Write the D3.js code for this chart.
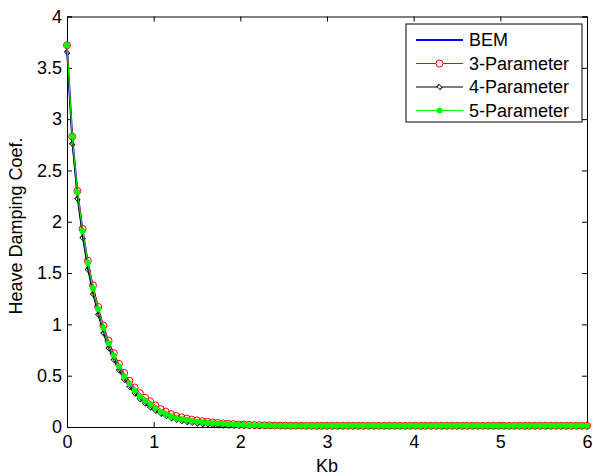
<!DOCTYPE html>
<html>
<head>
<meta charset="utf-8">
<script src="https://cdn.jsdelivr.net/npm/d3@7"></script>
<style>
  body { margin: 0; background: #fff; }
  text { font-family: "Liberation Sans", Arial, sans-serif; }
</style>
</head>
<body>
<div id="chart"></div>
<script>
const width = 593
const height = 476

// Kb runs 0 .. 6 in steps of 0.06 (101 samples)
const kbStep = 0.06

const bem = [
  3.70, 2.83, 2.29, 1.91, 1.60, 1.35, 1.15, 0.965, 0.815, 0.695,
  0.59, 0.495, 0.425, 0.355, 0.30, 0.256, 0.222, 0.185, 0.150, 0.124,
  0.102, 0.086, 0.075, 0.067, 0.059, 0.052, 0.046, 0.041, 0.037, 0.033,
  0.030, 0.027, 0.024, 0.022, 0.020, 0.018, 0.017, 0.016, 0.015, 0.014,
  0.013, 0.013, 0.012, 0.012, 0.012, 0.011, 0.011, 0.011, 0.011, 0.011,
  0.010, 0.010, 0.010, 0.010, 0.010, 0.010, 0.010, 0.010, 0.010, 0.010,
  0.010, 0.010, 0.010, 0.010, 0.010, 0.010, 0.010, 0.010, 0.010, 0.010,
  0.010, 0.010, 0.010, 0.010, 0.010, 0.010, 0.010, 0.010, 0.010, 0.010,
  0.010, 0.010, 0.010, 0.010, 0.010, 0.010, 0.010, 0.010, 0.010, 0.010,
  0.010, 0.010, 0.010, 0.010, 0.010, 0.010, 0.010, 0.010, 0.010, 0.010,
  0.010
]

const param3 = [
  3.72, 2.83, 2.30, 1.93, 1.62, 1.38, 1.17, 0.99, 0.84, 0.72,
  0.615, 0.525, 0.45, 0.385, 0.33, 0.285, 0.25, 0.21, 0.175, 0.15,
  0.125, 0.108, 0.094, 0.082, 0.072, 0.064, 0.056, 0.050, 0.044, 0.039,
  0.035, 0.031, 0.028, 0.025, 0.023, 0.021, 0.019, 0.018, 0.017, 0.016,
  0.015, 0.014, 0.014, 0.013, 0.013, 0.013, 0.012, 0.012, 0.012, 0.012,
  0.012, 0.012, 0.012, 0.012, 0.012, 0.012, 0.012, 0.012, 0.012, 0.012,
  0.012, 0.012, 0.012, 0.012, 0.012, 0.012, 0.012, 0.012, 0.012, 0.012,
  0.012, 0.012, 0.012, 0.012, 0.012, 0.012, 0.012, 0.012, 0.012, 0.012,
  0.012, 0.012, 0.012, 0.012, 0.012, 0.012, 0.012, 0.012, 0.012, 0.012,
  0.012, 0.012, 0.012, 0.012, 0.012, 0.012, 0.012, 0.012, 0.012, 0.012,
  0.012
]

const param4 = [
  3.65, 2.755, 2.22, 1.84, 1.53, 1.29, 1.09, 0.91, 0.765, 0.65,
  0.55, 0.46, 0.39, 0.325, 0.27, 0.228, 0.19, 0.158, 0.130, 0.106,
  0.086, 0.070, 0.058, 0.048, 0.040, 0.034, 0.028, 0.024, 0.020, 0.017,
  0.015, 0.013, 0.012, 0.011, 0.010, 0.010, 0.009, 0.009, 0.009, 0.009,
  0.009, 0.009, 0.009, 0.009, 0.009, 0.009, 0.009, 0.009, 0.009, 0.009,
  0.009, 0.009, 0.009, 0.009, 0.009, 0.009, 0.009, 0.009, 0.009, 0.009,
  0.009, 0.009, 0.009, 0.009, 0.009, 0.009, 0.009, 0.009, 0.009, 0.009,
  0.009, 0.009, 0.009, 0.009, 0.009, 0.009, 0.009, 0.009, 0.009, 0.009,
  0.009, 0.009, 0.009, 0.009, 0.009, 0.009, 0.009, 0.009, 0.009, 0.009,
  0.009, 0.009, 0.009, 0.009, 0.009, 0.009, 0.009, 0.009, 0.009, 0.009,
  0.009
]

const param5 = [
  3.72, 2.83, 2.29, 1.91, 1.60, 1.35, 1.15, 0.965, 0.815, 0.695,
  0.59, 0.495, 0.425, 0.355, 0.30, 0.256, 0.224, 0.185, 0.149, 0.124,
  0.102, 0.085, 0.075, 0.068, 0.058, 0.052, 0.046, 0.041, 0.037, 0.033,
  0.030, 0.027, 0.024, 0.022, 0.020, 0.018, 0.017, 0.016, 0.015, 0.014,
  0.013, 0.013, 0.012, 0.012, 0.012, 0.011, 0.011, 0.011, 0.011, 0.011,
  0.011, 0.011, 0.011, 0.011, 0.011, 0.011, 0.011, 0.011, 0.011, 0.011,
  0.011, 0.011, 0.011, 0.011, 0.011, 0.011, 0.011, 0.011, 0.011, 0.011,
  0.011, 0.011, 0.011, 0.011, 0.011, 0.011, 0.011, 0.011, 0.011, 0.011,
  0.011, 0.011, 0.011, 0.011, 0.011, 0.011, 0.011, 0.011, 0.011, 0.011,
  0.011, 0.011, 0.011, 0.011, 0.011, 0.011, 0.011, 0.011, 0.011, 0.011,
  0.011
]

const seriesNames = ["BEM", "3-Parameter", "4-Parameter", "5-Parameter"]
const xTicks = [0, 1, 2, 3, 4, 5, 6]
const yTicks = [0, 0.5, 1, 1.5, 2, 2.5, 3, 3.5, 4]

const margin = {left: 67, right: 6, top: 16.5, bottom: 49}
const fontPx = "18px"

const svg = d3.select("#chart")
  .append("svg")
    .attr("width", width)
    .attr("height", height)

const x = d3.scaleLinear()
  .domain([0, 6])
  .range([margin.left, width - margin.right])

const y = d3.scaleLinear()
  .domain([0, 4])
  .range([height - margin.bottom, margin.top])

const toPts = arr => arr.map((v, i) => ({kb: i * kbStep, v: v}))

const line = d3.line()
  .x(d => x(d.kb))
  .y(d => y(d.v))

// axes box with inward ticks on all sides
const tickLen = 5
svg.append("g")
  .attr("transform", `translate(0,${y(0)})`)
  .call(d3.axisBottom(x).tickValues(xTicks).tickSize(-tickLen).tickPadding(8).tickFormat(d3.format("d")))
svg.append("g")
  .attr("transform", `translate(0,${y(4)})`)
  .call(d3.axisTop(x).tickValues(xTicks).tickSize(-tickLen).tickFormat(""))
svg.append("g")
  .attr("transform", `translate(${x(0)},0)`)
  .call(d3.axisLeft(y).tickValues(yTicks).tickSize(-tickLen).tickPadding(5).tickFormat(d => d))
svg.append("g")
  .attr("transform", `translate(${x(6)},0)`)
  .call(d3.axisRight(y).tickValues(yTicks).tickSize(-tickLen).tickFormat(""))

svg.selectAll(".domain").attr("stroke", "#000")
svg.selectAll(".tick line").attr("stroke", "#000")
svg.selectAll(".tick text")
  .attr("fill", "#000")
  .style("font-size", fontPx)

// axis titles
svg.append("text")
  .attr("x", (x(0) + x(6)) / 2)
  .attr("y", 472)
  .attr("text-anchor", "middle")
  .style("font-size", fontPx)
  .text("Kb")

svg.append("text")
  .attr("transform", `translate(22,226) rotate(-90)`)
  .attr("text-anchor", "middle")
  .style("font-size", fontPx)
  .text("Heave Damping Coef.")

const plot = svg.append("g")

// BEM
plot.append("path")
  .datum(toPts(bem))
  .attr("fill", "none")
  .attr("stroke", "#0000ff")
  .attr("stroke-width", 2)
  .attr("d", line)

// 3-Parameter
plot.append("path")
  .datum(toPts(param3))
  .attr("fill", "none")
  .attr("stroke", "#ff0000")
  .attr("stroke-width", 1)
  .attr("d", line)
plot.append("g").selectAll("circle")
  .data(toPts(param3))
  .join("circle")
    .attr("cx", d => x(d.kb))
    .attr("cy", d => y(d.v))
    .attr("r", 3.5)
    .attr("fill", "none")
    .attr("stroke", "#ff0000")
    .attr("stroke-width", 1)

// 4-Parameter
const diamondPath = d3.symbol().type(d3.symbolSquare).size(26)
plot.append("path")
  .datum(toPts(param4))
  .attr("fill", "none")
  .attr("stroke", "#000")
  .attr("stroke-width", 1)
  .attr("d", line)
plot.append("g").selectAll("path")
  .data(toPts(param4))
  .join("path")
    .attr("transform", d => `translate(${x(d.kb)},${y(d.v)}) rotate(45) scale(0.85,0.6)`)
    .attr("d", diamondPath)
    .attr("fill", "none")
    .attr("stroke", "#000")
    .attr("stroke-width", 1.2)

// 5-Parameter
plot.append("path")
  .datum(toPts(param5))
  .attr("fill", "none")
  .attr("stroke", "#00ff00")
  .attr("stroke-width", 1)
  .attr("d", line)
plot.append("g").selectAll("circle")
  .data(toPts(param5))
  .join("circle")
    .attr("cx", d => x(d.kb))
    .attr("cy", d => y(d.v))
    .attr("r", 3)
    .attr("fill", "#00ff00")

// legend
const lg = svg.append("g")
lg.append("rect")
  .attr("x", 406).attr("y", 24)
  .attr("width", 176).attr("height", 98)
  .attr("fill", "#fff")
  .attr("stroke", "#000")
  .attr("stroke-width", 1)

const legendColors = ["#0000ff", "#ff0000", "#000", "#00ff00"]
seriesNames.forEach((name, i) => {
  const ly = 40 + i * 23.5
  lg.append("line")
    .attr("x1", 416).attr("x2", 463)
    .attr("y1", ly).attr("y2", ly)
    .attr("stroke", legendColors[i])
    .attr("stroke-width", i === 0 ? 2 : 1)
  if (i === 1) {
    lg.append("circle").attr("cx", 439.5).attr("cy", ly).attr("r", 3.5)
      .attr("fill", "#fff").attr("stroke", "#ff0000")
  } else if (i === 2) {
    lg.append("path")
      .attr("transform", `translate(439.5,${ly}) rotate(45) scale(0.85,0.6)`)
      .attr("d", diamondPath)
      .attr("fill", "#fff").attr("stroke", "#000").attr("stroke-width", 1.2)
  } else if (i === 3) {
    lg.append("circle").attr("cx", 439.5).attr("cy", ly).attr("r", 3)
      .attr("fill", "#00ff00")
  }
  lg.append("text")
    .attr("x", 469)
    .attr("y", ly)
    .attr("dy", "0.35em")
    .style("font-size", fontPx)
    .text(name)
})
</script>
</body>
</html>
